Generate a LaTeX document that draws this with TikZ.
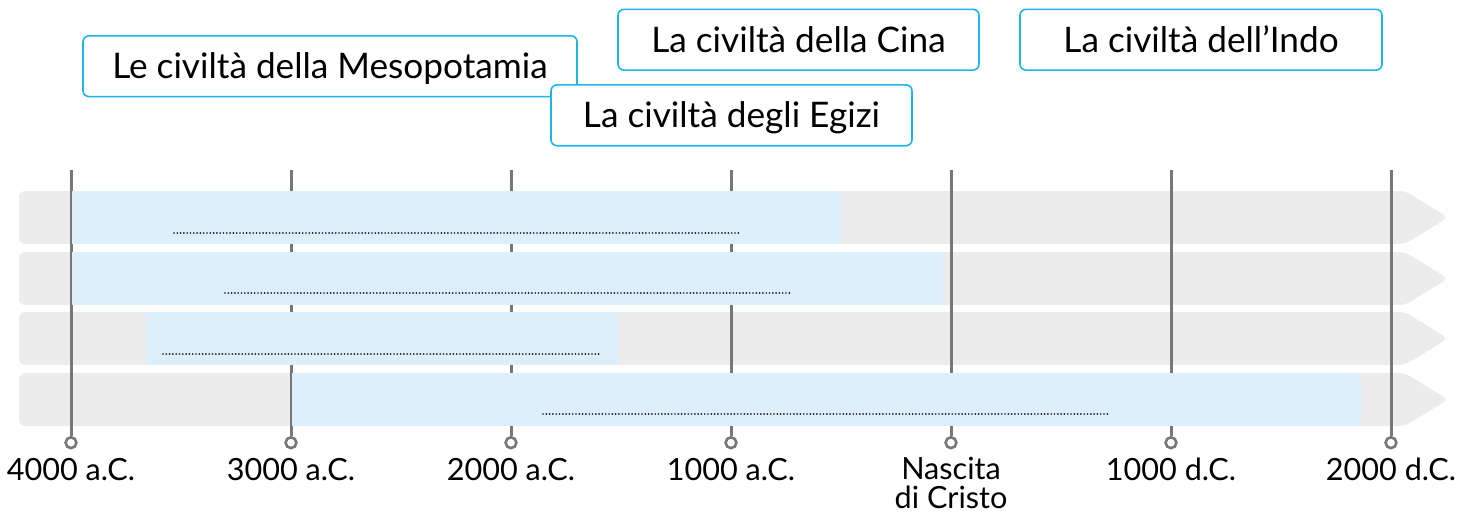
\documentclass[tikz,border=0pt]{standalone}
\usepackage{fontspec}
\setmainfont{Lato}
\usepackage{tikz}

\definecolor{bandgray}{HTML}{ECECEC}
\definecolor{barblue}{HTML}{DCEFFA}
\definecolor{boxcyan}{HTML}{1EB4E8}
\definecolor{tickgray}{HTML}{777777}

\begin{document}
\begin{tikzpicture}[x=0.5pt,y=-0.5pt]
    \tikzstyle{band}=[fill=bandgray, rounded corners=3pt]
    \tikzstyle{bar}=[fill=barblue]
    \tikzstyle{tick}=[draw=tickgray, line width=1.5pt]
    \tikzstyle{knob}=[circle, draw=tickgray, line width=1.3pt, fill=white, minimum size=5.4pt, inner sep=0pt]
    \tikzstyle{dots}=[line width=0.95pt, line cap=round, dash pattern=on 0pt off 1.65pt, black!90]
    \tikzstyle{civ}=[draw=boxcyan, line width=0.8pt, rounded corners=3pt, fill=white, minimum height=30.4pt, inner sep=0pt, text height=12.6pt, text depth=0pt, font=\fontsize{17.6}{20}\selectfont]
    \tikzstyle{year}=[anchor=base, inner sep=0pt, align=center, font=\fontsize{15.3}{14.3}\selectfont]

    \useasboundingbox (0,0) rectangle (1472,514);

    % grey arrows
    \fill[band] (19,191) -- (1405,191) -- (1448,217.5) -- (1405,244) -- (19,244) -- cycle;
    \fill[band] (19,252) -- (1405,252) -- (1448,278.5) -- (1405,305) -- (19,305) -- cycle;
    \fill[band] (19,312) -- (1405,312) -- (1448,338.5) -- (1405,365) -- (19,365) -- cycle;
    \fill[band] (19,373) -- (1405,373) -- (1448,399.5) -- (1405,426) -- (19,426) -- cycle;

    % ticks
    \coordinate (t1) at (71,170);
    \coordinate (t2) at (291,170);
    \coordinate (t3) at (511,170);
    \coordinate (t4) at (731,170);
    \coordinate (t5) at (951,170);
    \coordinate (t6) at (1171,170);
    \coordinate (t7) at (1391,170);
    \node[knob] (k1) at (71,442.7) {};
    \node[knob] (k2) at (291,442.7) {};
    \node[knob] (k3) at (511,442.7) {};
    \node[knob] (k4) at (731,442.7) {};
    \node[knob] (k5) at (951,442.7) {};
    \node[knob] (k6) at (1171,442.7) {};
    \node[knob] (k7) at (1391,442.7) {};
    \draw[tick] (t1) -- (k1);
    \draw[tick] (t2) -- (k2);
    \draw[tick] (t3) -- (k3);
    \draw[tick] (t4) -- (k4);
    \draw[tick] (t5) -- (k5);
    \draw[tick] (t6) -- (k6);
    \draw[tick] (t7) -- (k7);

    % blue bars
    \fill[bar] (72,191) rectangle (841,244);
    \fill[bar] (72,252) rectangle (943,305);
    \fill[bar] (146,312) rectangle (618,365);
    \fill[bar] (292,373) rectangle (1361,426);

    % dotted lines
    \coordinate (d1a) at (174,233);
    \coordinate (d1b) at (739,233);
    \coordinate (d2a) at (225,293);
    \coordinate (d2b) at (790,293);
    \coordinate (d3a) at (163,354);
    \coordinate (d3b) at (601,354);
    \coordinate (d4a) at (543,414);
    \coordinate (d4b) at (1108,414);
    \draw[dots] (d1a) -- (d1b);
    \draw[dots] (d2a) -- (d2b);
    \draw[dots] (d3a) -- (d3b);
    \draw[dots] (d4a) -- (d4b);

    % years
    \node[year] (y1) at (71,480) {4000 a.C.};
    \node[year] (y2) at (291,480) {3000 a.C.};
    \node[year] (y3) at (511,480) {2000 a.C.};
    \node[year] (y4) at (731,480) {1000 a.C.};
    \node[year] (y5) at (951,508) {Nascita\\di Cristo};
    \node[year] (y6) at (1171,480) {1000 d.C.};
    \node[year] (y7) at (1391,480) {2000 d.C.};

    % civilisations
    \node[civ, minimum width=247pt] (meso) at (330,66.2) {Le civiltà della Mesopotamia};
    \node[civ, minimum width=180.5pt] (cina) at (798.5,39.7) {La civiltà della Cina};
    \node[civ, minimum width=181pt] (indo) at (1201,39.7) {La civiltà dell’Indo};
    \node[civ, minimum width=180.5pt] (egizi) at (731.5,115.3) {La civiltà degli Egizi};

\end{tikzpicture}
\end{document}
